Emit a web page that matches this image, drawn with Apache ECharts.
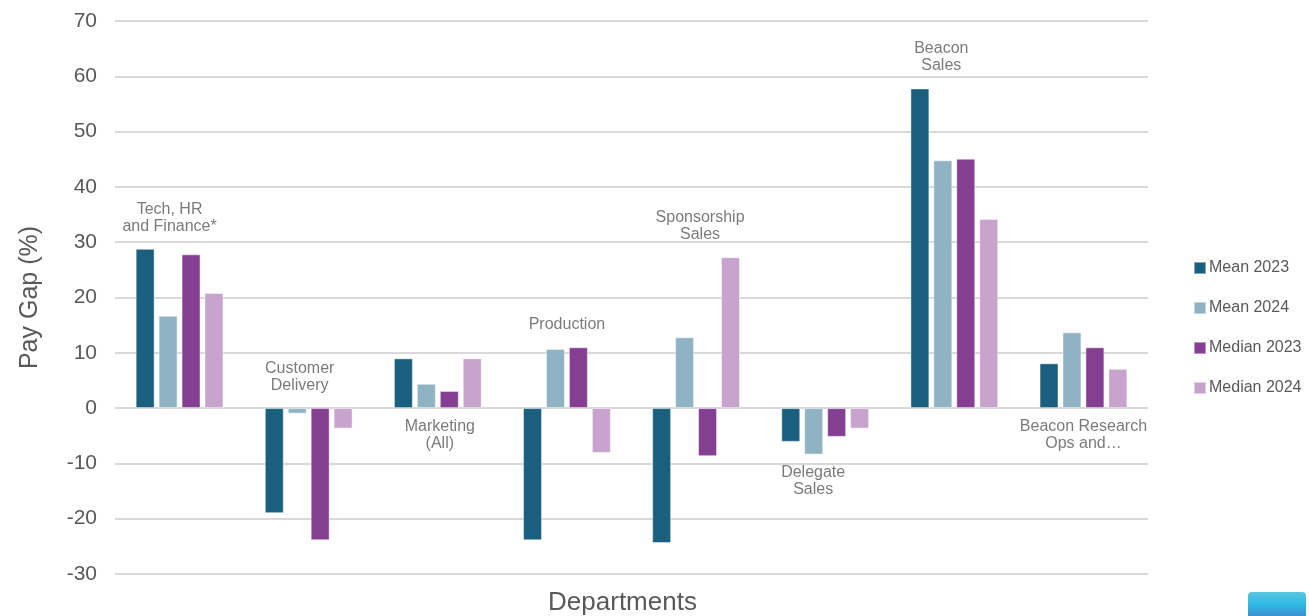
<!DOCTYPE html>
<html>
<head>
<meta charset="utf-8">
<script src="https://cdn.jsdelivr.net/npm/echarts@6/dist/echarts.min.js"></script>
<style>
  html, body { margin: 0; padding: 0; background: #ffffff; overflow: hidden; }
  #chart { width: 1309px; height: 616px; }
</style>
</head>
<body>
<div id="chart"></div>
<script>
// Departments shown along the category axis
const departments = [
  'Tech, HR\nand Finance*',
  'Customer\nDelivery',
  'Marketing\n(All)',
  'Production',
  'Sponsorship\nSales',
  'Delegate\nSales',
  'Beacon\nSales',
  'Beacon Research\nOps and…'
];

// Pay gap (%) per department
const mean2023   = [28.8, -19.0,  9.0, -23.9, -24.4, -6.1, 57.8,  8.1];
const mean2024   = [16.7,  -1.0,  4.4,  10.7,  12.8, -8.4, 44.8, 13.7];
const median2023 = [27.8, -23.9,  3.1,  11.0,  -8.7, -5.2, 45.1, 11.0];
const median2024 = [20.8,  -3.7,  9.0,  -8.1,  27.3, -3.7, 34.2,  7.1];

const yTicks = { min: -30, max: 70, step: 10 };

// Which side of its bar group each department name sits on, and its nudge in px
const nameSide = ['top', 'top', 'bottom', 'top', 'top', 'bottom', 'top', 'bottom'];
const nameNudgeX = [-10, -9, 2, 0, 4, -12, -13, 0];

const seriesDefs = [
  { name: 'Mean 2023',   data: mean2023,   color: '#1a607e' },
  { name: 'Mean 2024',   data: mean2024,   color: '#90b3c4' },
  { name: 'Median 2023', data: median2023, color: '#853f92' },
  { name: 'Median 2024', data: median2024, color: '#c7a3cd' }
];

const textColor = '#595959';
const font = 'Liberation Sans, Arial, Helvetica, sans-serif';

// Anchor each department name at the top or bottom edge of its bar group
const nameAnchors = departments.map((d, i) => {
  const vals = seriesDefs.map(s => s.data[i]);
  const v = nameSide[i] === 'top' ? Math.max(0, ...vals) : Math.min(0, ...vals);
  return { value: [i, v], side: nameSide[i] };
});

const chart = echarts.init(document.getElementById('chart'), null, { renderer: 'canvas' });

const barSeries = seriesDefs.map(s => ({
  name: s.name,
  type: 'bar',
  data: s.data,
  barGap: '21%',
  barCategoryGap: '32%',
  itemStyle: { color: s.color, borderColor: 'rgba(255,255,255,0.45)', borderWidth: 1 },
  emphasis: { disabled: true },
  animation: false
}));

const nameSeries = {
  name: 'departments',
  type: 'scatter',
  symbolSize: 0,
  silent: true,
  animation: false,
  z: 5,
  data: nameAnchors.map((a, i) => ({
    value: a.value,
    label: {
      show: true,
      position: a.side,
      distance: a.side === 'top' ? 14 : 10,
      offset: [nameNudgeX[i], 0],
      formatter: () => departments[i],
      color: textColor,
      fontFamily: font,
      fontSize: 16,
      lineHeight: 17,
      align: 'center'
    }
  }))
};

chart.setOption({
  backgroundColor: '#ffffff',
  textStyle: { fontFamily: font },
  grid: { left: 115, right: 161, top: 21, bottom: 42, containLabel: false, outerBoundsMode: 'none' },
  legend: {
    data: seriesDefs.map(s => s.name),
    orient: 'vertical',
    left: 1188,
    top: 255,
    itemWidth: 12,
    itemHeight: 12,
    itemGap: 24,
    icon: 'rect',
    textStyle: { color: textColor, fontSize: 16, fontFamily: font, padding: [0, 0, 0, -2] },
    selectedMode: false
  },
  xAxis: {
    type: 'category',
    data: departments,
    name: 'Departments',
    nameLocation: 'middle',
    nameGap: 16,
    nameTextStyle: { color: textColor, fontSize: 26, fontFamily: font, padding: [0, 18, 0, 0] },
    axisLine: { show: false },
    axisTick: { show: false },
    axisLabel: { show: false },
    splitLine: { show: false }
  },
  yAxis: {
    type: 'value',
    min: yTicks.min,
    max: yTicks.max,
    interval: yTicks.step,
    name: 'Pay Gap (%)',
    nameLocation: 'middle',
    nameGap: 72,
    nameTextStyle: { color: textColor, fontSize: 25, fontFamily: font },
    axisLine: { show: false },
    axisTick: { show: false },
    axisLabel: { color: textColor, fontSize: 21, fontFamily: font, margin: 18 },
    splitLine: { lineStyle: { color: '#d9d9d9', width: 2 } }
  },
  series: [...barSeries, nameSeries],
  graphic: [{
    type: 'rect',
    right: 3,
    bottom: 0,
    shape: { width: 58, height: 24, r: [4, 4, 0, 0] },
    style: {
      fill: new echarts.graphic.LinearGradient(0, 0, 0, 1, [
        { offset: 0, color: '#5cc6de' },
        { offset: 0.5, color: '#2db9e6' },
        { offset: 1, color: '#3d8fd0' }
      ])
    },
    silent: true
  }]
});
</script>
</body>
</html>
